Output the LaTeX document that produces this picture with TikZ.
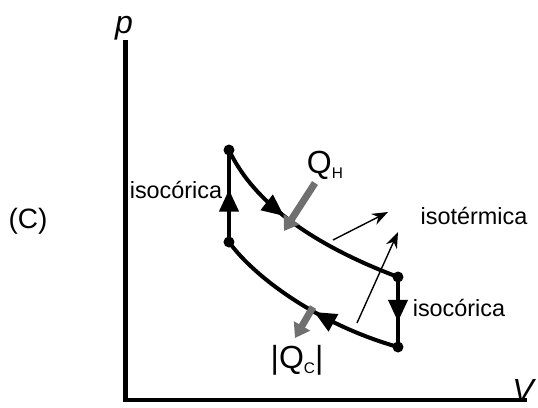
\documentclass[tikz,border=0pt]{standalone}
\usepackage{fontspec}
\setmainfont{Liberation Sans}
\usepackage{tikz}
\usetikzlibrary{arrows.meta, positioning, decorations.markings}
\definecolor{heatgray}{RGB}{112,112,112}

\begin{document}
\begin{tikzpicture}[x=0.5pt, y=-0.5pt,
  axis/.style={line width=2.2pt},
  cyc/.style={line width=2pt},
  dot/.style={circle, fill, inner sep=0pt, minimum size=5.5pt},
  heat/.style={-{Triangle[length=7pt, width=9pt]}, line width=3.5pt, heatgray},
  ptr/.style={-{Stealth[length=8pt, width=6pt]}, line width=0.7pt},
  lbl/.style={font=\fontsize{11.7}{14}\selectfont},
  midarrow/.style={postaction={decorate}, decoration={markings, mark=at position #1 with {\arrow{Triangle[length=11pt, width=9.5pt]}}}},
]
  \useasboundingbox (0,0) rectangle (538,408);

  % Axes
  \coordinate (ytop) at (125.5,40);
  \coordinate (O) at (125.5,400);
  \coordinate (xend) at (527,400);
  \draw[axis] (ytop) -- (O) -- (xend);
  \node[font=\fontsize{16}{16}\selectfont\itshape] (plbl) at (124,28) {p};
  \node[font=\fontsize{16}{16}\selectfont\itshape, inner sep=0pt] (vlbl) at (523,390) {V};

  % States
  \node[dot] (A) at (229,150) {};
  \node[dot] (B) at (229,242) {};
  \node[dot] (C) at (398,277) {};
  \node[dot] (D) at (398,347) {};

  % Cycle
  \draw[cyc, midarrow=0.40] (A.center) .. controls (250,195) and (300,240) .. (C.center);
  \draw[cyc, midarrow=0.64] (C.center) -- (D.center);
  \draw[cyc, midarrow=0.45] (D.center) .. controls (320,325) and (255,278) .. (B.center);
  \draw[cyc, midarrow=0.57] (B.center) -- (A.center);

  % Heat
  \coordinate (qhs) at (315,183);
  \coordinate (qhe) at (284,231);
  \draw[heat] (qhs) -- (qhe);
  \node (qh) at (325,165) {\fontsize{16}{16}\selectfont Q\raisebox{-2.5pt}{\fontsize{7.7}{8}\selectfont H}};
  \coordinate (qcs) at (313,307);
  \coordinate (qce) at (295,338);
  \draw[heat] (qcs) -- (qce);
  \node (qc) at (297,360) {\fontsize{16}{16}\selectfont |Q\raisebox{-2.5pt}{\fontsize{7.7}{8}\selectfont C}|};

  % Labels
  \node[lbl] (isoL) at (176,190) {isocórica};
  \node[lbl] (isoR) at (459,308) {isocórica};
  \node[lbl] (isoT) at (474,216) {isotérmica};
  \node[font=\fontsize{14}{16}\selectfont] (tag) at (28,221) {(C)};

  % Pointers
  \coordinate (t1s) at (333,240);
  \coordinate (t1e) at (388,212);
  \coordinate (t2s) at (357,323);
  \coordinate (t2e) at (398,232);
  \draw[ptr] (t1s) -- (t1e);
  \draw[ptr] (t2s) -- (t2e);
\end{tikzpicture}
\end{document}
